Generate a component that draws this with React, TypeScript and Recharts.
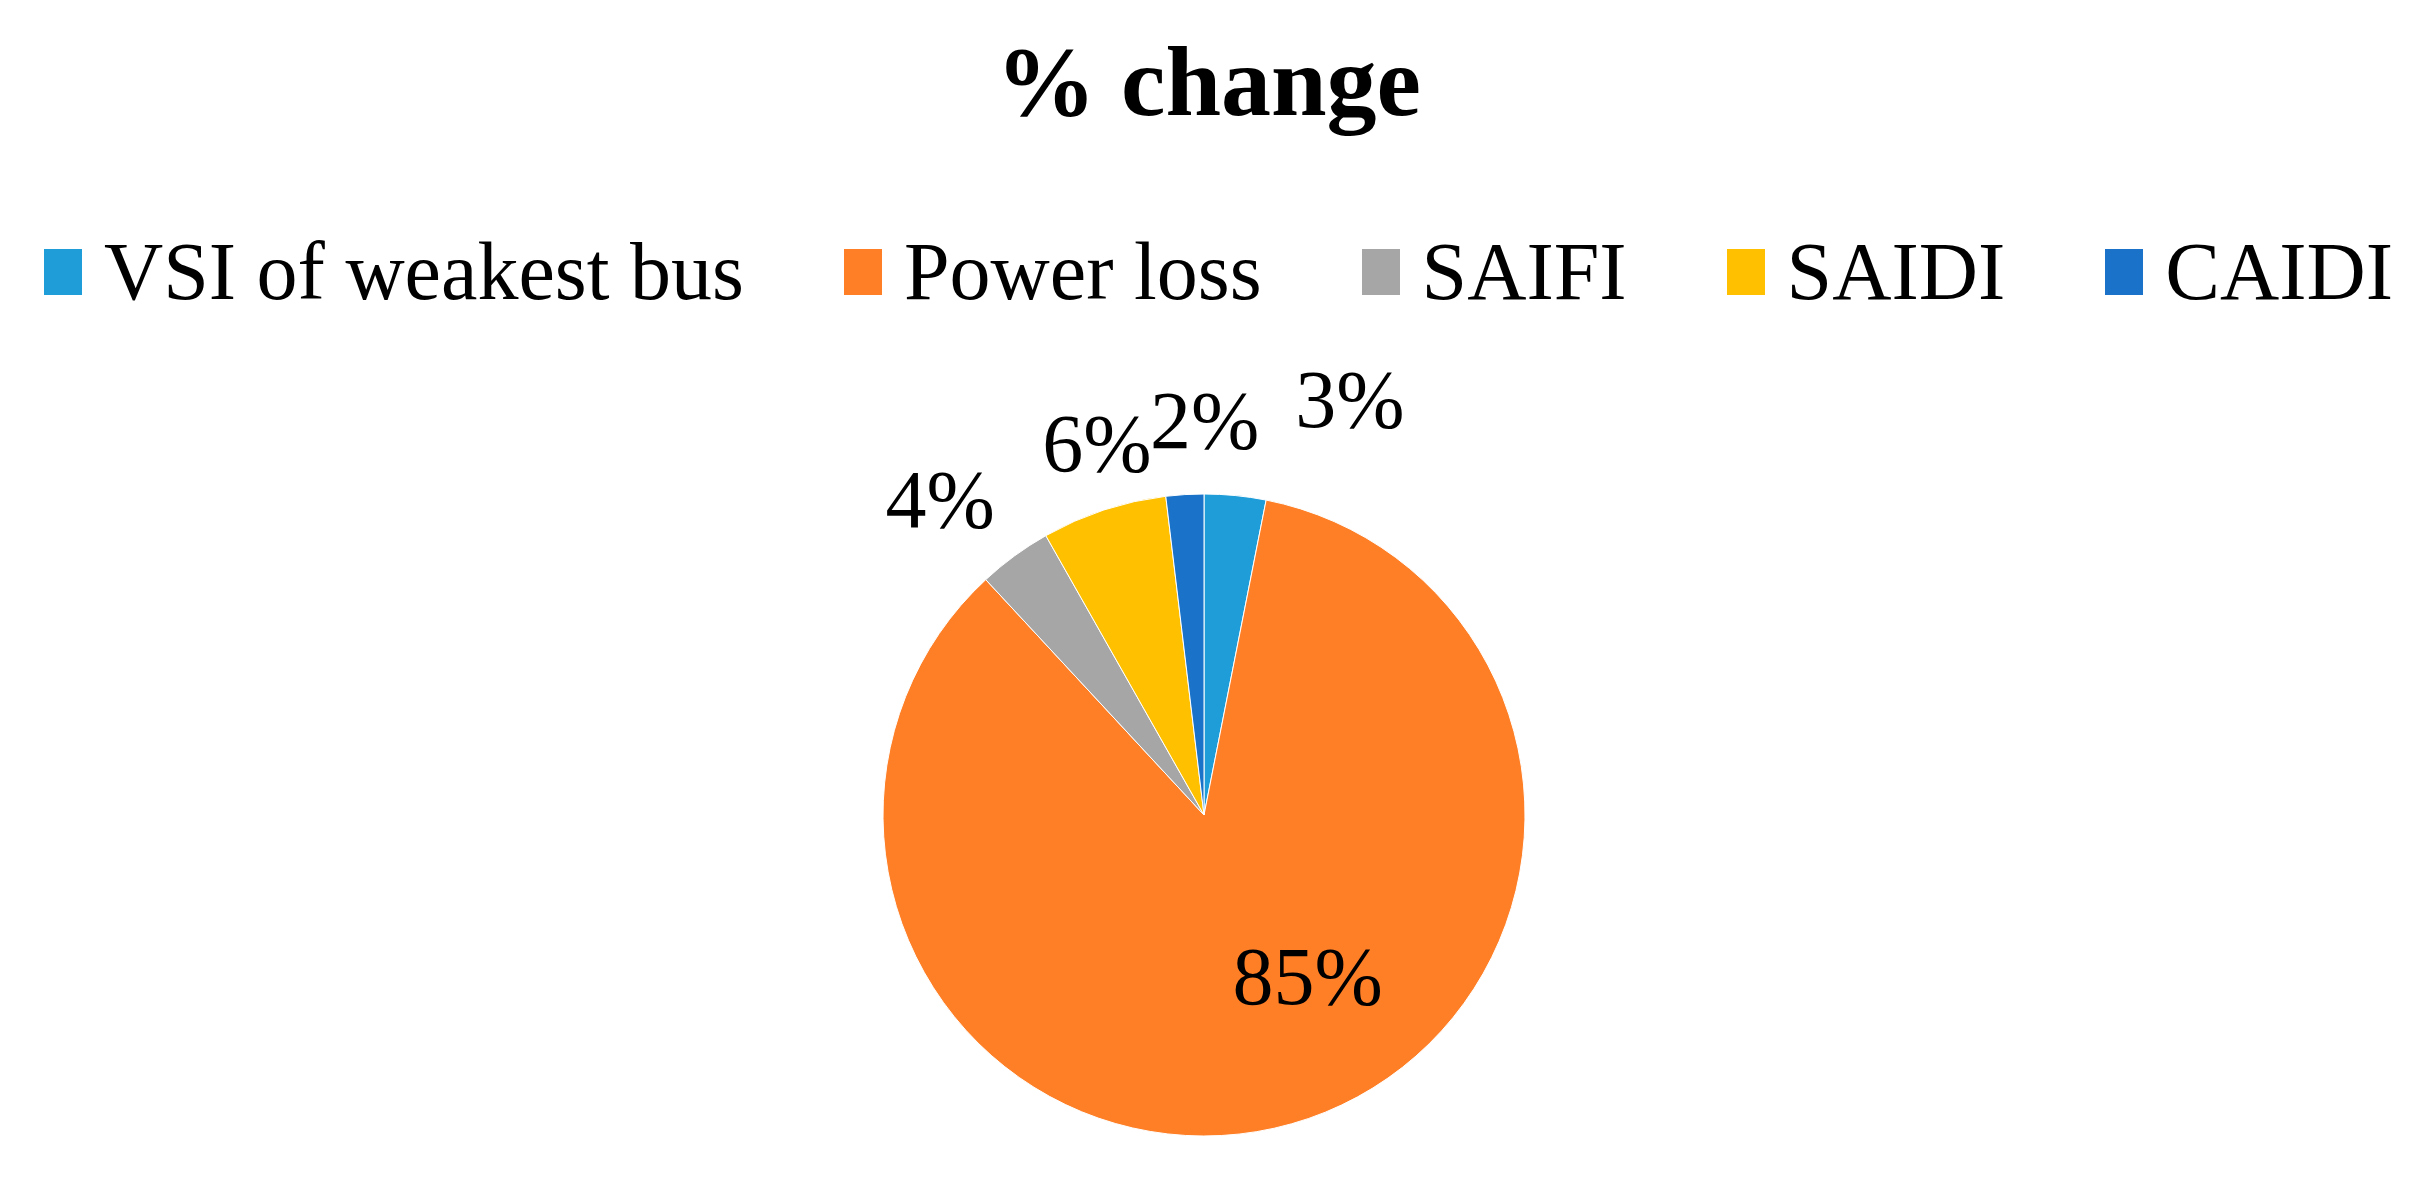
import { PieChart, Pie, Cell } from 'recharts';

const categories = ['VSI of weakest bus', 'Power loss', 'SAIFI', 'SAIDI', 'CAIDI'];
const shares = [3.1, 85.0, 3.7, 6.3, 1.9];
const colors = ['#1f9dd9', '#ff7f27', '#a6a6a6', '#ffc000', '#1a73c9'];
// small hand nudges so the outside labels don't sit on each other (Excel-style)
const labelNudge = [[108, -26], [51, -24], [-33, 0], [15, 0], [24, -4]];

const data = categories.map((name, i) => ({ name, value: shares[i] }));

const FONT = "'Liberation Serif', 'Times New Roman', serif";
const RADIAN = Math.PI / 180;

function renderLabel(props: any) {
  const { cx, cy, midAngle, outerRadius, percent, index } = props;
  const inside = percent > 0.5;
  const r = inside ? outerRadius * 0.6 : outerRadius + 70;
  const [dx, dy] = labelNudge[index];
  const x = cx + r * Math.cos(-midAngle * RADIAN) + dx;
  const y = cy + r * Math.sin(-midAngle * RADIAN) + dy;
  return (
    <text x={x} y={y} textAnchor="middle" dominantBaseline="central" fill="#000" fontSize={82} fontFamily={FONT}>
      {`${Math.round(percent * 100)}%`}
    </text>
  );
}

export default function App() {
  return (
    <div style={{ position: 'relative', width: 2417, height: 1179, background: '#fff', fontFamily: FONT }}>
      <style>{`body{margin:0}`}</style>
      <div style={{ position: 'absolute', top: 32, left: 0, width: 2417, textAlign: 'center', fontSize: 100, lineHeight: '100px', fontWeight: 'bold', color: '#000' }}>
        % change
      </div>
      <div style={{ position: 'absolute', top: 231, left: 0, width: 2417, paddingLeft: 20, boxSizing: 'border-box', display: 'flex', justifyContent: 'center', alignItems: 'center', gap: 100, fontSize: 82, lineHeight: '82px', color: '#000' }}>
        {categories.map((c, i) => (
          <div key={c} style={{ display: 'flex', alignItems: 'center', whiteSpace: 'nowrap' }}>
            <span style={{ display: 'inline-block', width: 38, height: 46, background: colors[i], marginRight: 22 }} />
            <span>{c}</span>
          </div>
        ))}
      </div>
      <div style={{ position: 'absolute', top: 0, left: 0 }}>
        <PieChart width={2417} height={1179} margin={{ top: 0, right: 0, bottom: 0, left: 0 }}>
          <Pie
            data={data}
            dataKey="value"
            nameKey="name"
            cx={1204}
            cy={815}
            outerRadius={321}
            startAngle={90}
            endAngle={-270}
            stroke="#fff"
            strokeWidth={1}
            label={renderLabel}
            labelLine={false}
            isAnimationActive={false}
          >
            {data.map((d, i) => (
              <Cell key={d.name} fill={colors[i]} />
            ))}
          </Pie>
        </PieChart>
      </div>
    </div>
  );
}
